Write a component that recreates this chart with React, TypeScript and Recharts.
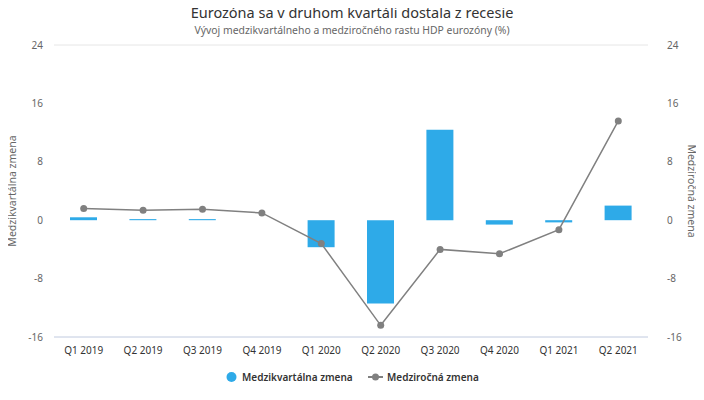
import React from 'react';
import { ComposedChart, Bar, Line, XAxis, YAxis, CartesianGrid, Legend } from 'recharts';

const categories = ['Q1 2019', 'Q2 2019', 'Q3 2019', 'Q4 2019', 'Q1 2020', 'Q2 2020', 'Q3 2020', 'Q4 2020', 'Q1 2021', 'Q2 2021'];
const qoq = [0.4, 0.15, 0.15, 0, -3.7, -11.4, 12.4, -0.6, -0.3, 2.0];
const yoy = [1.6, 1.35, 1.5, 1.0, -3.2, -14.4, -4.0, -4.6, -1.3, 13.6];
const yTicks = [-16, -8, 0, 8, 16, 24];

const data = categories.map((c, i) => ({ name: c, qoq: qoq[i], yoy: yoy[i] }));

const FONT = '"Noto Sans", "DejaVu Sans", sans-serif';
const BLUE = '#2eaae8';
const GRAY = '#808080';

const LegendContent = () => (
  <div style={{ height: 20, width: 704, position: 'relative' }}>
    <svg width={704} height={20} style={{ position: 'absolute', left: 0, top: 0 }}>
      <circle cx={231.5} cy={10} r={5} fill={BLUE} />
      <text x={242} y={14} fontSize={10} fontWeight={600} fill="#333" fontFamily={FONT}>Medzikvartálna zmena</text>
      <line x1={368} y1={10} x2={383} y2={10} stroke={GRAY} strokeWidth={2} />
      <circle cx={375.5} cy={10} r={3.5} fill={GRAY} />
      <text x={387} y={14} fontSize={10} fontWeight={600} fill="#333" fontFamily={FONT}>Medziročná zmena</text>
    </svg>
  </div>
);

export default function App() {
  return (
    <div style={{ position: 'relative', width: 704, height: 400, marginLeft: -8, marginTop: -8, fontFamily: FONT, background: '#fff' }}>
      <div style={{ position: 'absolute', left: 0, top: 20, width: 4, height: 4, background: BLUE }} />
      <div style={{ position: 'absolute', left: 0, top: 2, width: 704, textAlign: 'center', fontSize: 14.5, lineHeight: '20px', color: '#333', fontFamily: FONT }}>
        Eurozóna sa v druhom kvartáli dostala z recesie
      </div>
      <div style={{ position: 'absolute', left: 0, top: 23, width: 704, textAlign: 'center', fontSize: 10.4, lineHeight: '14px', color: '#666', fontFamily: FONT }}>
        Vývoj medzikvartálneho a medziročného rastu HDP eurozóny (%)
      </div>
      <div style={{ position: 'absolute', left: 0, top: 0 }}>
        <ComposedChart width={704} height={400} data={data} margin={{ top: 45, right: 0, bottom: 13, left: 0 }} barCategoryGap={0}>
          <CartesianGrid vertical={false} stroke="#e6e6e6" />
          <XAxis dataKey="name" height={30} tickLine={false} axisLine={{ stroke: '#ccd6eb' }}
            tick={{ fontSize: 10, fill: '#333', fontFamily: FONT }} tickMargin={4} interval={0} />
          <YAxis yAxisId="left" orientation="left" width={54} domain={[-16, 24]} ticks={yTicks}
            tickLine={false} axisLine={false} tickMargin={5} allowDataOverflow
            tick={{ fontSize: 10, fill: '#666', fontFamily: FONT }}
            label={{ value: 'Medzikvartálna zmena', angle: -90, position: 'insideLeft', offset: 12, style: { textAnchor: 'middle', fontSize: 10.5, fill: '#666', fontFamily: FONT } }} />
          <YAxis yAxisId="right" orientation="right" width={56} domain={[-16, 24]} ticks={yTicks}
            tickLine={false} axisLine={false} tickMargin={13} allowDataOverflow
            tick={{ fontSize: 10, fill: '#666', fontFamily: FONT, textAnchor: 'start' }}
            label={{ value: 'Medziročná zmena', angle: 90, position: 'insideRight', offset: 12, style: { textAnchor: 'middle', fontSize: 10.5, fill: '#666', fontFamily: FONT } }} />
          <Legend verticalAlign="bottom" content={<LegendContent />} wrapperStyle={{ left: 0, width: 704, height: 20 }} />
          <Bar yAxisId="left" dataKey="qoq" name="Medzikvartálna zmena" fill={BLUE} barSize={27} isAnimationActive={false} />
          <Line yAxisId="right" dataKey="yoy" name="Medziročná zmena" stroke={GRAY} strokeWidth={1.5}
            dot={{ r: 3.5, fill: GRAY, stroke: GRAY, strokeWidth: 0 }} activeDot={false} isAnimationActive={false} />
        </ComposedChart>
      </div>
    </div>
  );
}
